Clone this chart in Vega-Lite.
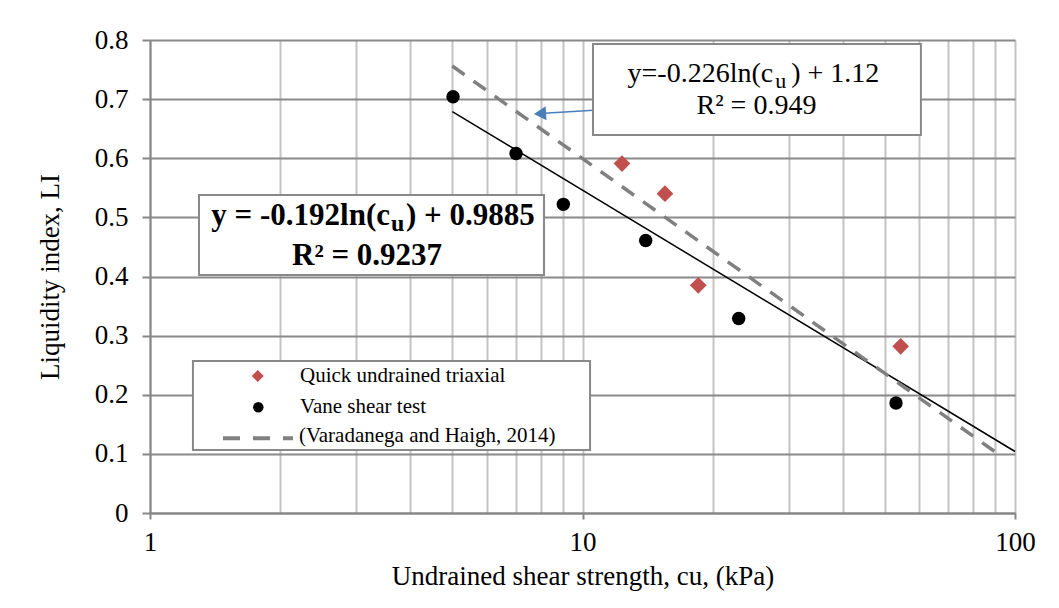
{
  "$schema": "https://vega.github.io/schema/vega-lite/v6.json",
  "width": 865,
  "height": 473,
  "autosize": {"type": "none"},
  "padding": {"left": 150, "top": 40, "right": 44, "bottom": 95},
  "background": "white",
  "config": {"view": {"stroke": null}, "font": "Liberation Serif"},
  "datasets": {
    "vane": [
      {"cu": 5.02, "LI": 0.704},
      {"cu": 7.02, "LI": 0.608},
      {"cu": 9.03, "LI": 0.522},
      {"cu": 14.0, "LI": 0.461},
      {"cu": 22.97, "LI": 0.329},
      {"cu": 53.07, "LI": 0.186}
    ],
    "quick": [
      {"cu": 12.34, "LI": 0.591},
      {"cu": 15.51, "LI": 0.540},
      {"cu": 18.52, "LI": 0.385},
      {"cu": 54.4, "LI": 0.282}
    ],
    "fit": [
      {"cu": 5, "LI": 0.679},
      {"cu": 100, "LI": 0.104}
    ],
    "vh2014": [
      {"cu": 5, "LI": 0.756},
      {"cu": 93, "LI": 0.096}
    ]
  },
  "data": {"values": [{}]},
  "layer": [
    {
      "data": {"name": "fit"},
      "mark": {"type": "line", "color": "black", "strokeWidth": 1.5},
      "encoding": {
        "x": {
          "field": "cu", "type": "quantitative",
          "scale": {"type": "log", "domain": [1, 100], "nice": false},
          "title": "Undrained shear strength, cu, (kPa)",
          "axis": {
            "values": [1,2,3,4,5,6,7,8,9,10,20,30,40,50,60,70,80,90,100],
            "format": "d",
            "labelExpr": "(datum.value==1||datum.value==10||datum.value==100) ? datum.label : ''",
            "labelOverlap": false,
            "labelFlush": false,
            "tickSize": 6,
            "tickWidth": 2,
            "tickColor": {"condition": {"test": "datum.value==1||datum.value==10||datum.value==100", "value": "#868686"}, "value": "transparent"},
            "grid": true,
            "gridColor": "#c4c4c4",
            "gridWidth": 2,
            "domainColor": "#868686",
            "domainWidth": 2,
            "labelFont": "Liberation Serif",
            "labelFontSize": 27,
            "labelColor": "black",
            "labelPadding": 10,
            "titleFont": "Liberation Serif",
            "titleFontSize": 27,
            "titleFontWeight": "normal",
            "titleColor": "black",
            "titlePadding": 8
          }
        },
        "y": {
          "field": "LI", "type": "quantitative",
          "scale": {"domain": [0, 0.8], "nice": false},
          "title": "Liquidity index, LI",
          "axis": {
            "values": [0, 0.1, 0.2, 0.3, 0.4, 0.5, 0.6, 0.7, 0.8],
            "format": ".1~f",
            "labelFlush": false,
            "labelOverlap": false,
            "tickSize": 8,
            "tickWidth": 2,
            "tickColor": "#868686",
            "grid": true,
            "gridColor": "#8a8a8a",
            "gridWidth": 2,
            "domainColor": "#868686",
            "domainWidth": 2,
            "labelFont": "Liberation Serif",
            "labelFontSize": 27,
            "labelColor": "black",
            "labelPadding": 14,
            "titleFont": "Liberation Serif",
            "titleFontSize": 27,
            "titleFontWeight": "normal",
            "titleColor": "black",
            "titlePadding": 30
          }
        }
      }
    },
    {
      "data": {"name": "vh2014"},
      "mark": {"type": "line", "color": "#808080", "strokeWidth": 3.5, "strokeDash": [15, 11]},
      "encoding": {
        "x": {"field": "cu", "type": "quantitative"},
        "y": {"field": "LI", "type": "quantitative"}
      }
    },
    {
      "data": {"name": "vane"},
      "mark": {"type": "point", "shape": "circle", "filled": true, "size": 180, "color": "black", "opacity": 1},
      "encoding": {
        "x": {"field": "cu", "type": "quantitative"},
        "y": {"field": "LI", "type": "quantitative"}
      }
    },
    {
      "data": {"name": "quick"},
      "mark": {"type": "point", "shape": "diamond", "filled": true, "size": 280, "color": "#c0504d", "opacity": 1},
      "encoding": {
        "x": {"field": "cu", "type": "quantitative"},
        "y": {"field": "LI", "type": "quantitative"}
      }
    },
    {
      "mark": {"type": "rule", "color": "#4a7ebb", "strokeWidth": 1.5},
      "encoding": {
        "x": {"datum": 12.61, "type": "quantitative"},
        "y": {"datum": 0.6847, "type": "quantitative"},
        "x2": {"datum": 7.975},
        "y2": {"datum": 0.6755}
      }
    },
    {
      "mark": {"type": "point", "shape": "triangle-left", "filled": true, "size": 200, "color": "#4a7ebb", "opacity": 1, "angle": 356.4},
      "encoding": {
        "x": {"datum": 7.975, "type": "quantitative"},
        "y": {"datum": 0.6755, "type": "quantitative"}
      }
    },
    {
      "mark": {"type": "rect", "fill": "white", "stroke": "#898989", "strokeWidth": 2},
      "encoding": {
        "x": {"datum": 10.575, "type": "quantitative"},
        "x2": {"datum": 60.6},
        "y": {"datum": 0.7932, "type": "quantitative"},
        "y2": {"datum": 0.6393}
      }
    },
    {
      "mark": {"type": "text", "text": "y=-0.226ln(c", "align": "right", "baseline": "alphabetic", "fontSize": 28, "color": "black"},
      "encoding": {
        "x": {"datum": 27.6, "type": "quantitative"},
        "y": {"datum": 0.729, "type": "quantitative"}
      }
    },
    {
      "mark": {"type": "text", "text": "u", "align": "left", "baseline": "alphabetic", "fontSize": 22, "dx": 2, "dy": 6, "color": "black"},
      "encoding": {
        "x": {"datum": 27.6, "type": "quantitative"},
        "y": {"datum": 0.729, "type": "quantitative"}
      }
    },
    {
      "mark": {"type": "text", "text": ") + 1.12", "align": "left", "baseline": "alphabetic", "fontSize": 28, "dx": 18, "color": "black"},
      "encoding": {
        "x": {"datum": 27.6, "type": "quantitative"},
        "y": {"datum": 0.729, "type": "quantitative"}
      }
    },
    {
      "mark": {"type": "text", "text": "R² = 0.949", "align": "center", "baseline": "alphabetic", "fontSize": 28, "color": "black"},
      "encoding": {
        "x": {"datum": 25.25, "type": "quantitative"},
        "y": {"datum": 0.6748, "type": "quantitative"}
      }
    },
    {
      "mark": {"type": "rect", "fill": "white", "stroke": "#898989", "strokeWidth": 2},
      "encoding": {
        "x": {"datum": 1.298, "type": "quantitative"},
        "x2": {"datum": 8.147},
        "y": {"datum": 0.5378, "type": "quantitative"},
        "y2": {"datum": 0.4025}
      }
    },
    {
      "mark": {"type": "text", "text": "y = -0.192ln(c", "align": "right", "baseline": "alphabetic", "fontSize": 31, "fontWeight": "bold", "color": "black"},
      "encoding": {
        "x": {"datum": 3.589, "type": "quantitative"},
        "y": {"datum": 0.4871, "type": "quantitative"}
      }
    },
    {
      "mark": {"type": "text", "text": "u", "align": "left", "baseline": "alphabetic", "fontSize": 24, "fontWeight": "bold", "dx": 1, "dy": 6, "color": "black"},
      "encoding": {
        "x": {"datum": 3.589, "type": "quantitative"},
        "y": {"datum": 0.4871, "type": "quantitative"}
      }
    },
    {
      "mark": {"type": "text", "text": ") + 0.9885", "align": "left", "baseline": "alphabetic", "fontSize": 31, "fontWeight": "bold", "dx": 16, "color": "black"},
      "encoding": {
        "x": {"datum": 3.589, "type": "quantitative"},
        "y": {"datum": 0.4871, "type": "quantitative"}
      }
    },
    {
      "mark": {"type": "text", "text": "R² = 0.9237", "align": "center", "baseline": "alphabetic", "fontSize": 31, "fontWeight": "bold", "color": "black"},
      "encoding": {
        "x": {"datum": 3.176, "type": "quantitative"},
        "y": {"datum": 0.4195, "type": "quantitative"}
      }
    },
    {
      "mark": {"type": "rect", "fill": "white", "stroke": "#898989", "strokeWidth": 2},
      "encoding": {
        "x": {"datum": 1.257, "type": "quantitative"},
        "x2": {"datum": 10.41},
        "y": {"datum": 0.2571, "type": "quantitative"},
        "y2": {"datum": 0.1066}
      }
    },
    {
      "mark": {"type": "point", "shape": "diamond", "filled": true, "size": 144, "color": "#c0504d", "opacity": 1},
      "encoding": {
        "x": {"datum": 1.775, "type": "quantitative"},
        "y": {"datum": 0.2317, "type": "quantitative"}
      }
    },
    {
      "mark": {"type": "point", "shape": "circle", "filled": true, "size": 110, "color": "black", "opacity": 1},
      "encoding": {
        "x": {"datum": 1.78, "type": "quantitative"},
        "y": {"datum": 0.1788, "type": "quantitative"}
      }
    },
    {
      "mark": {"type": "rule", "color": "#808080", "strokeWidth": 4, "strokeDash": [17, 13]},
      "encoding": {
        "x": {"datum": 1.475, "type": "quantitative"},
        "x2": {"datum": 2.141},
        "y": {"datum": 0.1263, "type": "quantitative"}
      }
    },
    {
      "mark": {"type": "text", "text": "Quick undrained triaxial", "align": "left", "baseline": "alphabetic", "fontSize": 21, "color": "black"},
      "encoding": {
        "x": {"datum": 2.223, "type": "quantitative"},
        "y": {"datum": 0.2221, "type": "quantitative"}
      }
    },
    {
      "mark": {"type": "text", "text": "Vane shear test", "align": "left", "baseline": "alphabetic", "fontSize": 21, "color": "black"},
      "encoding": {
        "x": {"datum": 2.223, "type": "quantitative"},
        "y": {"datum": 0.1686, "type": "quantitative"}
      }
    },
    {
      "mark": {"type": "text", "text": "(Varadanega and Haigh, 2014)", "align": "left", "baseline": "alphabetic", "fontSize": 21, "color": "black"},
      "encoding": {
        "x": {"datum": 2.21, "type": "quantitative"},
        "y": {"datum": 0.1206, "type": "quantitative"}
      }
    }
  ]
}
